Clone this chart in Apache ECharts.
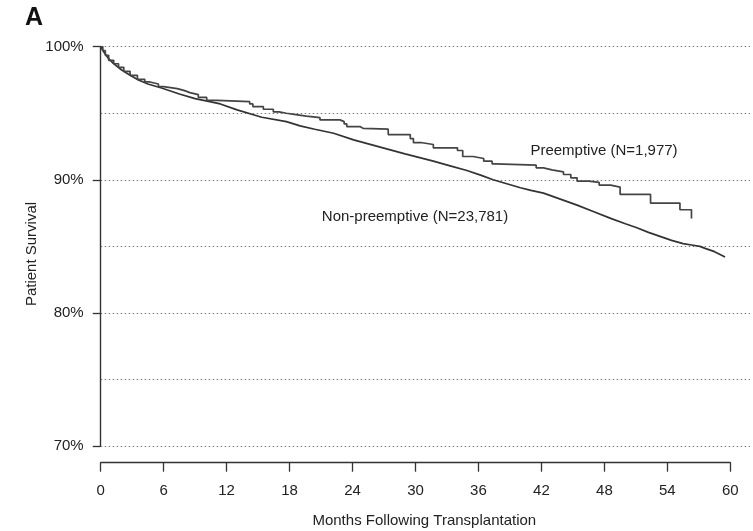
<!DOCTYPE html>
<html><head><meta charset="utf-8">
<script src="https://cdn.jsdelivr.net/npm/echarts@6/dist/echarts.min.js"></script>
<style>html,body{margin:0;padding:0;background:#fff}#c{width:753px;height:531px}</style>
</head><body><div id="c"></div>
<script>
// Non-preemptive (N=23,781): months, survival %
const nonTime = [0, 0.3, 0.7, 1.2, 2.0, 2.8, 3.6, 4.5, 5.8, 7.5, 9.0, 10.5, 11.4, 13.0, 15.35, 17.7, 19.0, 20.4, 22.2, 24.1, 26.9, 29.0, 31.7, 33.3, 34.9, 36.2, 37.4, 38.7, 40.0, 41.0, 42.2, 43.8, 45.4, 47.0, 48.6, 50.0, 51.1, 52.2, 53.3, 54.4, 55.5, 56.3, 57.1, 57.6, 58.5, 59.5];
const nonSurv = [100, 99.6, 99.15, 98.75, 98.25, 97.85, 97.5, 97.2, 96.9, 96.45, 96.1, 95.85, 95.7, 95.25, 94.7, 94.37, 94.05, 93.8, 93.5, 93.0, 92.4, 91.95, 91.4, 91.05, 90.7, 90.35, 90.0, 89.7, 89.4, 89.2, 89.0, 88.55, 88.1, 87.6, 87.1, 86.7, 86.4, 86.05, 85.75, 85.45, 85.2, 85.1, 85.0, 84.85, 84.6, 84.2];
// Preemptive (N=1,977): step times (months) and survival % after each step
const preTime = [0, 0.2, 0.44, 0.76, 1.24, 1.7, 2.2, 2.8, 3.5, 4.2, 4.7, 5.5, 6.0, 7.3, 8.0, 8.5, 9.3, 10.1, 11.1, 14.2, 14.5, 15.5, 16.45, 17.0, 17.7, 18.6, 19.6, 20.9, 22.8, 23.2, 23.45, 24.7, 25.0, 27.4, 29.5, 29.8, 30.5, 31.7, 34.0, 34.5, 35.5, 36.5, 37.3, 37.6, 41.5, 42.2, 43.0, 44.1, 44.8, 45.4, 46.5, 47.5, 48.6, 49.5, 52.4, 55.2, 56.3];
const preSurv = [100, 99.7, 99.35, 98.98, 98.72, 98.45, 98.15, 97.85, 97.55, 97.35, 97.2, 97.0, 96.85, 96.7, 96.55, 96.4, 96.2, 95.97, 95.87, 95.7, 95.5, 95.3, 95.1, 95.0, 94.9, 94.78, 94.67, 94.5, 94.37, 94.2, 94.0, 93.87, 93.8, 93.4, 93.1, 92.8, 92.65, 92.4, 92.2, 91.75, 91.6, 91.4, 91.2, 91.1, 90.9, 90.75, 90.6, 90.4, 90.15, 89.9, 89.8, 89.6, 89.45, 88.9, 88.25, 87.75, 87.1];

const FONT = '"Liberation Sans", Arial, Helvetica, sans-serif';
const zip = (a, b) => a.map((t, i) => [t, b[i]]);
const chart = echarts.init(document.getElementById('c'), null, {renderer: 'canvas'});
const option = {
  animation: false,
  backgroundColor: '#fff',
  grid: [
    {left: 100.7, top: 46.7, width: 649.3, height: 399.3},
    {left: 100.7, top: 46.7, width: 629.6, height: 399.3}
  ],
  xAxis: [
    {gridIndex: 0, type: 'value', min: 0, max: 1, show: false},
    {gridIndex: 1, type: 'value', min: 0, max: 60, interval: 6, offset: 16.7,
     axisLine: {show: true, onZero: false, lineStyle: {color: '#333', width: 1.4}},
     axisTick: {show: true, length: 9, lineStyle: {color: '#333', width: 1.3}},
     axisLabel: {margin: 21, fontSize: 15, color: '#222', fontFamily: FONT},
     splitLine: {show: false}}
  ],
  yAxis: [
    {gridIndex: 0, type: 'value', min: 70, max: 100, interval: 5,
     axisLine: {show: false}, axisTick: {show: false}, axisLabel: {show: false},
     splitLine: {show: true, lineStyle: {type: [1.5, 2.5], color: '#777', width: 1}}},
    {gridIndex: 1, type: 'value', min: 70, max: 100, interval: 10,
     axisLine: {show: true, onZero: false, lineStyle: {color: '#333', width: 1.4}},
     axisTick: {show: true, length: 8, lineStyle: {color: '#333', width: 1.3}},
     axisLabel: {formatter: '{value}%', margin: 17, fontSize: 15, color: '#222', fontFamily: FONT},
     splitLine: {show: false}}
  ],
  series: [
    {name: 'Non-preemptive (N=23,781)', type: 'line', xAxisIndex: 1, yAxisIndex: 1,
     data: zip(nonTime, nonSurv), showSymbol: false, symbol: 'none',
     lineStyle: {color: '#333', width: 1.7}},
    {name: 'Preemptive (N=1,977)', type: 'line', xAxisIndex: 1, yAxisIndex: 1, step: 'end',
     data: zip(preTime, preSurv), showSymbol: false, symbol: 'none',
     lineStyle: {color: '#444', width: 1.7}}
  ],
  graphic: [
    {type: 'text', x: 25, y: 18, style: {text: 'A', font: 'bold 25px ' + FONT, fill: '#111', textAlign: 'left', textVerticalAlign: 'middle'}},
    {type: 'text', x: 31.7, y: 254, rotation: Math.PI / 2, style: {text: 'Patient Survival', font: '15px ' + FONT, fill: '#222', textAlign: 'center', textVerticalAlign: 'middle'}},
    {type: 'text', x: 424.3, y: 520.5, style: {text: 'Months Following Transplantation', font: '15px ' + FONT, fill: '#222', textAlign: 'center', textVerticalAlign: 'middle'}},
    {type: 'text', x: 604, y: 150.7, style: {text: 'Preemptive (N=1,977)', font: '15px ' + FONT, fill: '#222', textAlign: 'center', textVerticalAlign: 'middle'}},
    {type: 'text', x: 415, y: 216.7, style: {text: 'Non-preemptive (N=23,781)', font: '15px ' + FONT, fill: '#222', textAlign: 'center', textVerticalAlign: 'middle'}}
  ]
};
chart.setOption(option);
</script>
</body></html>
